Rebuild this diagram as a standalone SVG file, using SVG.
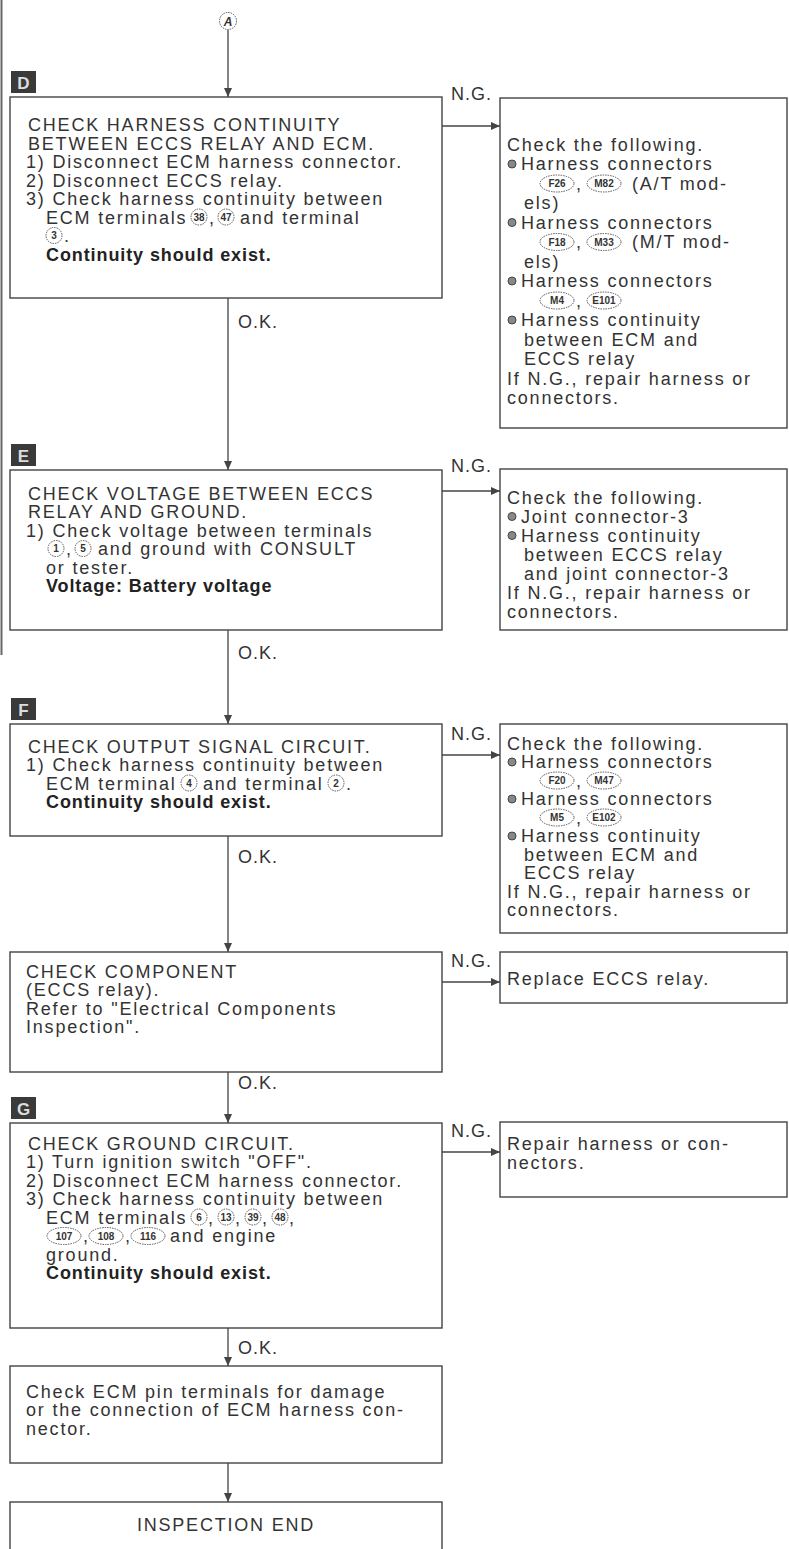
<svg xmlns="http://www.w3.org/2000/svg" width="789" height="1549" viewBox="0 0 789 1549">
<defs>
<marker id="ah" markerUnits="userSpaceOnUse" markerWidth="10" markerHeight="10" refX="9" refY="4" orient="auto">
<path d="M0,0 L9,4 L0,8 Z" fill="#444"/>
</marker>
<style>
.bx{fill:#fff;stroke:#444;stroke-width:1.4}
.t{font-family:"Liberation Sans",Arial,sans-serif;font-size:18px;letter-spacing:1.8px;fill:#333}
.b{font-family:"Liberation Sans",Arial,sans-serif;font-size:18px;letter-spacing:0.9px;fill:#222;font-weight:bold}
.cn circle,.cn ellipse{fill:none;stroke:#555;stroke-width:1;stroke-dasharray:1.5 1}
.cn text{font-family:"Liberation Sans",Arial,sans-serif;font-size:10px;font-weight:bold;fill:#333;text-anchor:middle}
.bul{fill:#888;stroke:#444;stroke-width:1}
.lb rect{fill:#3a3a3a}
.lb text{font-family:"Liberation Sans",Arial,sans-serif;font-size:17px;font-weight:bold;fill:#ddd;text-anchor:middle}
.ln{stroke:#444;stroke-width:1.3;fill:none}
.lab{font-family:"Liberation Sans",Arial,sans-serif;font-size:18px;letter-spacing:1px;fill:#333}
</style>
</defs>
<rect width="789" height="1549" fill="#fff"/>
<line x1="1.5" y1="0" x2="1.5" y2="655" stroke="#666" stroke-width="2"/>

<g id="start">
<circle cx="228" cy="21" r="8.5" fill="none" stroke="#555" stroke-width="1" stroke-dasharray="1.5 1"/>
<text x="228" y="25.5" font-family="Liberation Sans,Arial,sans-serif" font-size="12" font-style="italic" font-weight="bold" fill="#333" text-anchor="middle">A</text>
</g>

<g id="connectors">
<line class="ln" x1="228" y1="30" x2="228" y2="97" marker-end="url(#ah)"/>
<line class="ln" x1="228" y1="298" x2="228" y2="470" marker-end="url(#ah)"/>
<line class="ln" x1="228" y1="630" x2="228" y2="724" marker-end="url(#ah)"/>
<line class="ln" x1="228" y1="836" x2="228" y2="952" marker-end="url(#ah)"/>
<line class="ln" x1="228" y1="1072" x2="228" y2="1123" marker-end="url(#ah)"/>
<line class="ln" x1="228" y1="1328" x2="228" y2="1366" marker-end="url(#ah)"/>
<line class="ln" x1="228" y1="1463" x2="228" y2="1502" marker-end="url(#ah)"/>
<line class="ln" x1="442" y1="126" x2="500" y2="126" marker-end="url(#ah)"/>
<line class="ln" x1="442" y1="491" x2="500" y2="491" marker-end="url(#ah)"/>
<line class="ln" x1="442" y1="755" x2="500" y2="755" marker-end="url(#ah)"/>
<line class="ln" x1="442" y1="982" x2="500" y2="982" marker-end="url(#ah)"/>
<line class="ln" x1="442" y1="1152" x2="500" y2="1152" marker-end="url(#ah)"/>
<text class="lab" x="451" y="100">N.G.</text>
<text class="lab" x="451" y="472">N.G.</text>
<text class="lab" x="451" y="740">N.G.</text>
<text class="lab" x="451" y="967">N.G.</text>
<text class="lab" x="451" y="1137">N.G.</text>
<text class="lab" x="238" y="328">O.K.</text>
<text class="lab" x="238" y="659">O.K.</text>
<text class="lab" x="238" y="863">O.K.</text>
<text class="lab" x="238" y="1089">O.K.</text>
<text class="lab" x="238" y="1354">O.K.</text>
</g>

<g id="nodeD">
<g class="lb"><rect x="11" y="71" width="25" height="22"/><text x="23.5" y="88.5">D</text></g>
<rect class="bx" x="10" y="97" width="432" height="201"/>
<text class="t" x="28" y="131">CHECK HARNESS CONTINUITY</text>
<text class="t" x="28" y="149.5">BETWEEN ECCS RELAY AND ECM.</text>
<text class="t" x="26" y="168">1) Disconnect ECM harness connector.</text>
<text class="t" x="26" y="186.5">2) Disconnect ECCS relay.</text>
<text class="t" x="26" y="205">3) Check harness continuity between</text>
<text class="t" x="46" y="223.5">ECM terminals</text>
<g class="cn"><circle cx="199" cy="217" r="8"/><text x="199" y="220.5">38</text></g>
<text class="t" x="209" y="223.5">,</text>
<g class="cn"><circle cx="226" cy="217" r="8"/><text x="226" y="220.5">47</text></g>
<text class="t" x="240" y="223.5">and terminal</text>
<g class="cn"><circle cx="54" cy="235.5" r="8"/><text x="54" y="239">3</text></g>
<text class="t" x="64" y="242">.</text>
<text class="b" x="46" y="260.5">Continuity should exist.</text>
</g>

<g id="nodeDng">
<rect class="bx" x="500" y="98" width="287" height="330"/>
<text class="t" x="507" y="150.5">Check the following.</text>
<circle class="bul" cx="512" cy="164" r="4"/>
<text class="t" x="521" y="170">Harness connectors</text>
<g class="cn"><ellipse cx="557" cy="183.5" rx="17" ry="8.5"/><text x="557" y="187">F26</text></g>
<text class="t" x="576" y="189.5">,</text>
<g class="cn"><ellipse cx="604" cy="183.5" rx="17" ry="8.5"/><text x="604" y="187">M82</text></g>
<text class="t" x="632" y="189.5">(A/T mod-</text>
<text class="t" x="524" y="209">els)</text>
<circle class="bul" cx="512" cy="222.5" r="4"/>
<text class="t" x="521" y="228.5">Harness connectors</text>
<g class="cn"><ellipse cx="557" cy="242" rx="17" ry="8.5"/><text x="557" y="245.5">F18</text></g>
<text class="t" x="576" y="248">,</text>
<g class="cn"><ellipse cx="604" cy="242" rx="17" ry="8.5"/><text x="604" y="245.5">M33</text></g>
<text class="t" x="632" y="248">(M/T mod-</text>
<text class="t" x="524" y="267.5">els)</text>
<circle class="bul" cx="512" cy="281" r="4"/>
<text class="t" x="521" y="287">Harness connectors</text>
<g class="cn"><ellipse cx="557" cy="300.5" rx="17" ry="8.5"/><text x="557" y="304">M4</text></g>
<text class="t" x="576" y="306.5">,</text>
<g class="cn"><ellipse cx="604" cy="300.5" rx="17" ry="8.5"/><text x="604" y="304">E101</text></g>
<circle class="bul" cx="512" cy="320" r="4"/>
<text class="t" x="521" y="326">Harness continuity</text>
<text class="t" x="524" y="345.5">between ECM and</text>
<text class="t" x="524" y="365">ECCS relay</text>
<text class="t" x="507" y="384.5">If N.G., repair harness or</text>
<text class="t" x="507" y="404">connectors.</text>
</g>

<g id="nodeE">
<g class="lb"><rect x="11" y="444" width="25" height="22"/><text x="23.5" y="461.5">E</text></g>
<rect class="bx" x="10" y="470" width="432" height="160"/>
<text class="t" x="28" y="499.5">CHECK VOLTAGE BETWEEN ECCS</text>
<text class="t" x="28" y="518">RELAY AND GROUND.</text>
<text class="t" x="26" y="536.5">1) Check voltage between terminals</text>
<g class="cn"><circle cx="56" cy="548.5" r="8"/><text x="56" y="552">1</text></g>
<text class="t" x="66" y="555">,</text>
<g class="cn"><circle cx="83" cy="548.5" r="8"/><text x="83" y="552">5</text></g>
<text class="t" x="98" y="555">and ground with CONSULT</text>
<text class="t" x="46" y="573.5">or tester.</text>
<text class="b" x="46" y="592">Voltage: Battery voltage</text>
</g>

<g id="nodeEng">
<rect class="bx" x="500" y="469" width="287" height="161"/>
<text class="t" x="507" y="503.5">Check the following.</text>
<circle class="bul" cx="512" cy="516.5" r="4"/>
<text class="t" x="521" y="522.5">Joint connector-3</text>
<circle class="bul" cx="512" cy="535.5" r="4"/>
<text class="t" x="521" y="541.5">Harness continuity</text>
<text class="t" x="524" y="560.5">between ECCS relay</text>
<text class="t" x="524" y="579.5">and joint connector-3</text>
<text class="t" x="507" y="598.5">If N.G., repair harness or</text>
<text class="t" x="507" y="617.5">connectors.</text>
</g>

<g id="nodeF">
<g class="lb"><rect x="11" y="698" width="25" height="22"/><text x="23.5" y="715.5">F</text></g>
<rect class="bx" x="10" y="724" width="432" height="112"/>
<text class="t" x="28" y="752.5">CHECK OUTPUT SIGNAL CIRCUIT.</text>
<text class="t" x="26" y="771">1) Check harness continuity between</text>
<text class="t" x="46" y="789.5">ECM terminal</text>
<g class="cn"><circle cx="189" cy="783" r="8"/><text x="189" y="786.5">4</text></g>
<text class="t" x="203" y="789.5">and terminal</text>
<g class="cn"><circle cx="336" cy="783" r="8"/><text x="336" y="786.5">2</text></g>
<text class="t" x="346" y="789.5">.</text>
<text class="b" x="46" y="808">Continuity should exist.</text>
</g>

<g id="nodeFng">
<rect class="bx" x="500" y="724" width="287" height="209"/>
<text class="t" x="507" y="749.5">Check the following.</text>
<circle class="bul" cx="512" cy="762" r="4"/>
<text class="t" x="521" y="768">Harness connectors</text>
<g class="cn"><ellipse cx="557" cy="780.5" rx="17" ry="8.5"/><text x="557" y="784">F20</text></g>
<text class="t" x="576" y="786.5">,</text>
<g class="cn"><ellipse cx="604" cy="780.5" rx="17" ry="8.5"/><text x="604" y="784">M47</text></g>
<circle class="bul" cx="512" cy="799" r="4"/>
<text class="t" x="521" y="805">Harness connectors</text>
<g class="cn"><ellipse cx="557" cy="817.5" rx="17" ry="8.5"/><text x="557" y="821">M5</text></g>
<text class="t" x="576" y="823.5">,</text>
<g class="cn"><ellipse cx="604" cy="817.5" rx="17" ry="8.5"/><text x="604" y="821">E102</text></g>
<circle class="bul" cx="512" cy="836" r="4"/>
<text class="t" x="521" y="842">Harness continuity</text>
<text class="t" x="524" y="860.5">between ECM and</text>
<text class="t" x="524" y="879">ECCS relay</text>
<text class="t" x="507" y="897.5">If N.G., repair harness or</text>
<text class="t" x="507" y="916">connectors.</text>
</g>

<g id="nodeComp">
<rect class="bx" x="10" y="952" width="432" height="120"/>
<text class="t" x="26" y="977.5">CHECK COMPONENT</text>
<text class="t" x="26" y="996">(ECCS relay).</text>
<text class="t" x="26" y="1014.5">Refer to "Electrical Components</text>
<text class="t" x="26" y="1033">Inspection".</text>
</g>

<g id="nodeCompng">
<rect class="bx" x="500" y="952" width="287" height="51"/>
<text class="t" x="507" y="984.5">Replace ECCS relay.</text>
</g>

<g id="nodeG">
<g class="lb"><rect x="11" y="1097" width="25" height="22"/><text x="23.5" y="1114.5">G</text></g>
<rect class="bx" x="10" y="1123" width="432" height="205"/>
<text class="t" x="28" y="1149.5">CHECK GROUND CIRCUIT.</text>
<text class="t" x="26" y="1168">1) Turn ignition switch "OFF".</text>
<text class="t" x="26" y="1186.5">2) Disconnect ECM harness connector.</text>
<text class="t" x="26" y="1205">3) Check harness continuity between</text>
<text class="t" x="46" y="1223.5">ECM terminals</text>
<g class="cn"><circle cx="199" cy="1217" r="8"/><text x="199" y="1220.5">6</text></g>
<text class="t" x="208" y="1223.5">,</text>
<g class="cn"><circle cx="226" cy="1217" r="8"/><text x="226" y="1220.5">13</text></g>
<text class="t" x="235" y="1223.5">,</text>
<g class="cn"><circle cx="253" cy="1217" r="8"/><text x="253" y="1220.5">39</text></g>
<text class="t" x="262" y="1223.5">,</text>
<g class="cn"><circle cx="280" cy="1217" r="8"/><text x="280" y="1220.5">48</text></g>
<text class="t" x="289" y="1223.5">,</text>
<g class="cn"><ellipse cx="64" cy="1236" rx="17" ry="8.5"/><text x="64" y="1239.5">107</text></g>
<text class="t" x="83" y="1242">,</text>
<g class="cn"><ellipse cx="106" cy="1236" rx="17" ry="8.5"/><text x="106" y="1239.5">108</text></g>
<text class="t" x="125" y="1242">,</text>
<g class="cn"><ellipse cx="148" cy="1236" rx="17" ry="8.5"/><text x="148" y="1239.5">116</text></g>
<text class="t" x="170" y="1242">and engine</text>
<text class="t" x="46" y="1260.5">ground.</text>
<text class="b" x="46" y="1279">Continuity should exist.</text>
</g>

<g id="nodeGng">
<rect class="bx" x="500" y="1122" width="287" height="75"/>
<text class="t" x="507" y="1149.5">Repair harness or con-</text>
<text class="t" x="507" y="1168.5">nectors.</text>
</g>

<g id="nodePin">
<rect class="bx" x="10" y="1366" width="432" height="97"/>
<text class="t" x="26" y="1397.5">Check ECM pin terminals for damage</text>
<text class="t" x="26" y="1416">or the connection of ECM harness con-</text>
<text class="t" x="26" y="1434.5">nector.</text>
</g>

<g id="nodeEnd">
<rect class="bx" x="10" y="1502" width="432" height="60"/>
<text class="t" x="226" y="1530.5" text-anchor="middle">INSPECTION END</text>
</g>
</svg>
